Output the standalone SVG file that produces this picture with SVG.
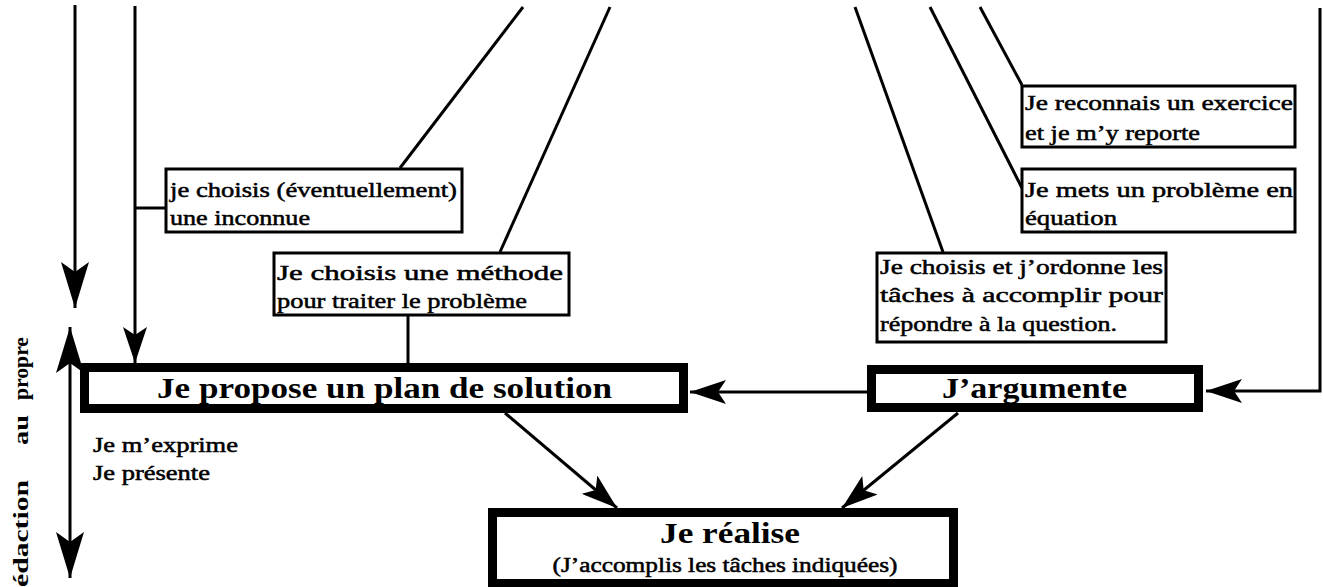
<svg xmlns="http://www.w3.org/2000/svg" width="1323" height="587" viewBox="0 0 1323 587">
<style>
.bg{fill:#fff}
.box{fill:#fff;stroke:#000;stroke-width:3}
.thick{fill:#fff;stroke:#000;stroke-width:9}
.ln{fill:none;stroke:#000;stroke-width:3}
.t{font-family:"Liberation Serif","Times New Roman",serif;font-size:21px;fill:#000;stroke:#000;stroke-width:0.5}
.h{font-family:"Liberation Serif","Times New Roman",serif;font-size:29px;font-weight:bold;fill:#000}
.s{font-family:"Liberation Serif","Times New Roman",serif;font-size:20px;fill:#000;stroke:#000;stroke-width:0.5}
.v{font-family:"Liberation Serif","Times New Roman",serif;font-size:22px;font-weight:bold;fill:#000}
</style>
<defs>
<marker id="ah" viewBox="0 0 36 24" refX="36" refY="12" markerUnits="userSpaceOnUse" markerWidth="36" markerHeight="24" orient="auto">
<path d="M0,0 L36,12 L0,24 L8,12 z" fill="#000"/>
</marker>
<marker id="ahb" viewBox="0 0 46 28" refX="46" refY="14" markerUnits="userSpaceOnUse" markerWidth="46" markerHeight="28" orient="auto">
<path d="M0,0 L46,14 L0,28 L10,14 z" fill="#000"/>
</marker>
<marker id="ahbs" viewBox="0 0 46 28" refX="0" refY="14" markerUnits="userSpaceOnUse" markerWidth="46" markerHeight="28" orient="auto">
<path d="M46,0 L0,14 L46,28 L36,14 z" fill="#000"/>
</marker>
</defs>
<rect class="bg" x="0" y="0" width="1323" height="587"/>

<g id="connectors">
<line class="ln" x1="75" y1="5" x2="75" y2="308" marker-end="url(#ahb)"/>
<line class="ln" x1="135" y1="6" x2="135" y2="363" marker-end="url(#ah)"/>
<line class="ln" x1="135" y1="208" x2="165" y2="208"/>
<line class="ln" x1="70" y1="327" x2="70" y2="578" marker-start="url(#ahbs)" marker-end="url(#ahb)"/>
<line class="ln" x1="523" y1="7" x2="400" y2="168"/>
<line class="ln" x1="610" y1="7" x2="500" y2="252"/>
<line class="ln" x1="408" y1="315" x2="408" y2="363"/>
<line class="ln" x1="855" y1="7" x2="943" y2="252"/>
<line class="ln" x1="930" y1="7" x2="1022" y2="188"/>
<line class="ln" x1="980" y1="7" x2="1022" y2="85"/>
<polyline class="ln" points="1320,8 1320,391 1206,391" marker-end="url(#ah)"/>
<line class="ln" x1="867" y1="392" x2="690" y2="392" marker-end="url(#ah)"/>
<line class="ln" x1="505" y1="413" x2="617" y2="508" marker-end="url(#ah)"/>
<line class="ln" x1="958" y1="413" x2="842" y2="508" marker-end="url(#ah)"/>
</g>

<g id="node-inconnue">
<rect class="box" x="166" y="169" width="296" height="63"/>
<text class="t" x="170" y="197" textLength="287" lengthAdjust="spacingAndGlyphs">je choisis (éventuellement)</text>
<text class="t" x="170" y="225" textLength="140" lengthAdjust="spacingAndGlyphs">une inconnue</text>
</g>

<g id="node-methode">
<rect class="box" x="274" y="253" width="295" height="62"/>
<text class="t" x="277" y="280" textLength="286" lengthAdjust="spacingAndGlyphs">Je choisis une méthode</text>
<text class="t" x="277" y="308" textLength="250" lengthAdjust="spacingAndGlyphs">pour traiter le problème</text>
</g>

<g id="node-exercice">
<rect class="box" x="1022" y="86" width="273" height="61"/>
<text class="t" x="1025" y="110" textLength="268" lengthAdjust="spacingAndGlyphs">Je reconnais un exercice</text>
<text class="t" x="1025" y="140" textLength="175" lengthAdjust="spacingAndGlyphs">et je m’y reporte</text>
</g>

<g id="node-equation">
<rect class="box" x="1022" y="169" width="273" height="63"/>
<text class="t" x="1025" y="197" textLength="268" lengthAdjust="spacingAndGlyphs">Je mets un problème en</text>
<text class="t" x="1025" y="225" textLength="92" lengthAdjust="spacingAndGlyphs">équation</text>
</g>

<g id="node-taches">
<rect class="box" x="877" y="253" width="289" height="89"/>
<text class="t" x="880" y="274" textLength="283" lengthAdjust="spacingAndGlyphs">Je choisis et j’ordonne les</text>
<text class="t" x="880" y="302" textLength="283" lengthAdjust="spacingAndGlyphs">tâches à accomplir pour</text>
<text class="t" x="880" y="331" textLength="237" lengthAdjust="spacingAndGlyphs">répondre à la question.</text>
</g>

<g id="node-plan">
<rect class="thick" x="84.5" y="367.5" width="599" height="41"/>
<text class="h" x="157" y="398" textLength="455" lengthAdjust="spacingAndGlyphs">Je propose un plan de solution</text>
</g>

<g id="node-argumente">
<rect class="thick" x="871.5" y="369.5" width="327" height="38"/>
<text class="h" x="942" y="398" textLength="185" lengthAdjust="spacingAndGlyphs">J’argumente</text>
</g>

<g id="node-realise">
<rect class="thick" x="492.5" y="512.5" width="461" height="71"/>
<text class="h" x="730" y="543" text-anchor="middle" textLength="140" lengthAdjust="spacingAndGlyphs">Je réalise</text>
<text class="s" x="725" y="572" text-anchor="middle" textLength="345" lengthAdjust="spacingAndGlyphs">(J’accomplis les tâches indiquées)</text>
</g>

<g id="node-exprime">
<text class="s" x="93" y="452" textLength="145" lengthAdjust="spacingAndGlyphs">Je m’exprime</text>
<text class="s" x="93" y="480" textLength="117" lengthAdjust="spacingAndGlyphs">Je présente</text>
</g>

<g id="label-redaction">
<text class="v" transform="translate(28,587) rotate(-90)"><tspan x="0" y="0" textLength="107" lengthAdjust="spacingAndGlyphs">édaction</tspan><tspan x="142" y="0" textLength="30" lengthAdjust="spacingAndGlyphs">au</tspan><tspan x="187" y="0" textLength="63" lengthAdjust="spacingAndGlyphs">propre</tspan></text>
</g>
</svg>
